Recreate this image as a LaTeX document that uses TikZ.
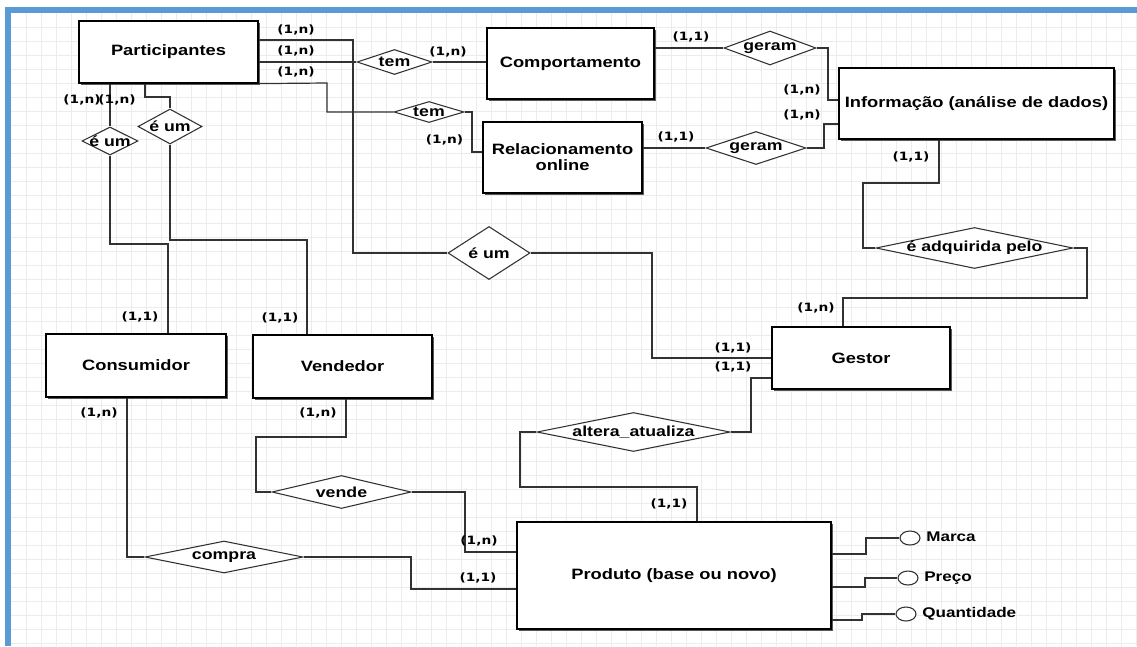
\documentclass[tikz,border=0pt]{standalone}
\usepackage{fontspec}
\usetikzlibrary{shapes.geometric,shadows}
\newfontfamily\boxf{Liberation Sans}[FakeStretch=1.22]
\newfontfamily\cardf{DejaVu Sans}[FakeStretch=1.2]
\definecolor{erblue}{RGB}{91,155,213}
\definecolor{erline}{RGB}{50,50,50}
\definecolor{ergrid}{RGB}{236,236,236}
\begin{document}
\begin{tikzpicture}[x=0.75pt,y=-0.75pt,
  ent/.style 2 args={draw=black, line width=0.9pt, fill=white, inner sep=0,
    minimum width=#1*0.75pt, minimum height=#2*0.75pt, align=center,
    font=\boxf\bfseries\fontsize{11.25}{12}\selectfont,
    drop shadow={shadow xshift=1.6pt, shadow yshift=-1.6pt, fill=black!65, opacity=1}},
  dia/.style 2 args={diamond, draw=erline, line width=0.8pt, fill=white, inner sep=0,
    minimum width=#1*0.75pt, minimum height=#2*0.75pt},
  dlbl/.style={inner sep=0, font=\boxf\bfseries\fontsize{10.9}{12}\selectfont},
  con/.style={draw=erline, line width=0.9pt},
  card/.style={inner sep=0, text height=1.5ex, text depth=0.3ex,
    font=\cardf\bfseries\fontsize{8.6}{10}\selectfont},
  attr/.style={ellipse, draw=erline, line width=0.8pt, fill=white, inner sep=0,
    minimum width=20*0.75pt, minimum height=14*0.75pt},
  attrlabel/.style={anchor=west, inner sep=0, text height=1.5ex, text depth=0.3ex,
    font=\boxf\bfseries\fontsize{10.5}{12}\selectfont},
  gridline/.style={draw=ergrid, line width=0.5pt}
]
\useasboundingbox (0,0) rectangle (1137,646);
\fill[white] (0,0) rectangle (1137,646);
% grid
\foreach \gx in {26,41,...,1137} \draw[gridline] (\gx,13) -- (\gx,646);
\foreach \gy in {27,41,...,646} \draw[gridline] (11,\gy) -- (1137,\gy);

% entities
\node[ent={179}{62}] (par) at (168.5,52) {Participantes};
\node[ent={167}{71}] (comp) at (570.5,63.5) {Comportamento};
\node[ent={159}{71}] (rel) at (562.5,157.5) {Relacionamento\\online};
\node[ent={275}{71}] (info) at (976.5,103.5) {Informação (análise de dados)};
\node[ent={178}{62}] (gestor) at (861,358) {Gestor};
\node[ent={180}{63}] (cons) at (136,365.5) {Consumidor};
\node[ent={179}{63}] (vend) at (342.5,366.5) {Vendedor};
\node[ent={314}{107}] (prod) at (674,575.5) {Produto (base ou novo)};

% relationships
\node[dia={75}{25}, label={[dlbl]center:tem}] (tem1) at (394.5,62) {};
\node[dia={70}{21}, label={[dlbl]center:tem}] (tem2) at (429,112) {};
\node[dia={56}{28}, label={[dlbl]center:é um}] (eum1) at (110,141) {};
\node[dia={64}{35}, label={[dlbl]center:é um}] (eum2) at (170,126.5) {};
\node[dia={82}{53}, label={[dlbl]center:é um}] (eum3) at (489,253) {};
\node[dia={92}{34}, label={[dlbl]center:geram}] (geram1) at (770,48) {};
\node[dia={100}{33}, label={[dlbl]center:geram}] (geram2) at (756,148) {};
\node[dia={197}{41}, label={[dlbl]center:é adquirida pelo}] (adq) at (974.5,248) {};
\node[dia={193}{39}, label={[dlbl]center:altera\_atualiza}] (alt) at (633.5,432) {};
\node[dia={139}{33}, label={[dlbl]center:vende}] (vende) at (341.5,492) {};
\node[dia={158}{32}, label={[dlbl]center:compra}] (compra) at (224,557) {};

% attributes
\node[attr] (marca) at (910,538) {};
\node[attr] (preco) at (908,578) {};
\node[attr] (quant) at (906,614) {};
\node[attrlabel] (marcat) at (926,538) {Marca};
\node[attrlabel] (precot) at (924,578) {Preço};
\node[attrlabel] (quantt) at (922,614) {Quantidade};

% connectors
\draw[con] (par.east |- 0,40) -- (353,40) -- (353,253) -- (eum3.west);
\draw[con] (eum3.east) -- (652,253) |- (gestor.west);
\draw[con] (par.east |- tem1.west) -- (tem1.west);
\draw[con] (tem1.east) -- (comp.west |- tem1.east);
\draw[con] (par.south east) -- (327,83) |- (tem2.west);
\draw[con] (tem2.east) -- (472,112) |- (rel.west |- 0,152);
\draw[con] (eum1.north |- par.south) -- (eum1.north);
\draw[con] (eum1.south) -- (110,244) -| (cons.north -| 168,0);
\draw[con] (par.south -| 145,0) -- (145,97) -| (eum2.north);
\draw[con] (eum2.south) -- (170,240) -| (vend.north -| 307,0);
\draw[con] (comp.east |- geram1.west) -- (geram1.west);
\draw[con] (geram1.east) -- (828,48) |- (info.west |- 0,100);
\draw[con] (rel.east |- geram2.west) -- (geram2.west);
\draw[con] (geram2.east) -- (824,148) |- (info.west |- 0,124);
\draw[con] (info.south -| 939,0) -- (939,183) -| (863,248) -- (adq.west);
\draw[con] (adq.east) -- (1087,248) |- (843,298) -- (gestor.north -| 843,0);
\draw[con] (gestor.west |- 0,378) -- (751,378) |- (alt.east);
\draw[con] (alt.west) -- (520,432) |- (697,487) -- (prod.north -| 697,0);
\draw[con] (cons.south -| 127,0) |- (compra.west);
\draw[con] (compra.east) -- (411,557) |- (prod.west |- 0,589);
\draw[con] (vend.south -| 346,0) -- (346,437) -| (256,492) -- (vende.west);
\draw[con] (vende.east) -- (465,492) |- (prod.west |- 0,552);
\draw[con] (prod.east |- 0,554) -- (866,554) |- (marca.west);
\draw[con] (prod.east |- 0,587) -- (865,587) |- (preco.west);
\draw[con] (prod.east |- 0,620) -- (862,620) |- (quant.west);

% cardinalities
\node[card] (c1) at (296,30) {(1,n)};
\node[card] (c2) at (296,51) {(1,n)};
\node[card] (c3) at (296,72) {(1,n)};
\node[card] (c4) at (448,52) {(1,n)};
\node[card] (c5) at (444.5,140) {(1,n)};
\node[card] (c6) at (82,100) {(1,n)};
\node[card] (c7) at (117,100) {(1,n)};
\node[card] (c8) at (691,37) {(1,1)};
\node[card] (c9) at (676,137) {(1,1)};
\node[card] (c10) at (802,90) {(1,n)};
\node[card] (c11) at (802,115) {(1,n)};
\node[card] (c12) at (911,157) {(1,1)};
\node[card] (c13) at (816,308) {(1,n)};
\node[card] (c14) at (733,348) {(1,1)};
\node[card] (c15) at (733,367) {(1,1)};
\node[card] (c16) at (140,317) {(1,1)};
\node[card] (c17) at (280,318) {(1,1)};
\node[card] (c18) at (99,413) {(1,n)};
\node[card] (c19) at (318,413) {(1,n)};
\node[card] (c20) at (669,504) {(1,1)};
\node[card] (c21) at (479,541) {(1,n)};
\node[card] (c22) at (478,578) {(1,1)};

% frame
\fill[erblue] (5,7) rectangle (1137,13);
\fill[erblue] (5,7) rectangle (11,646);
\end{tikzpicture}
\end{document}
